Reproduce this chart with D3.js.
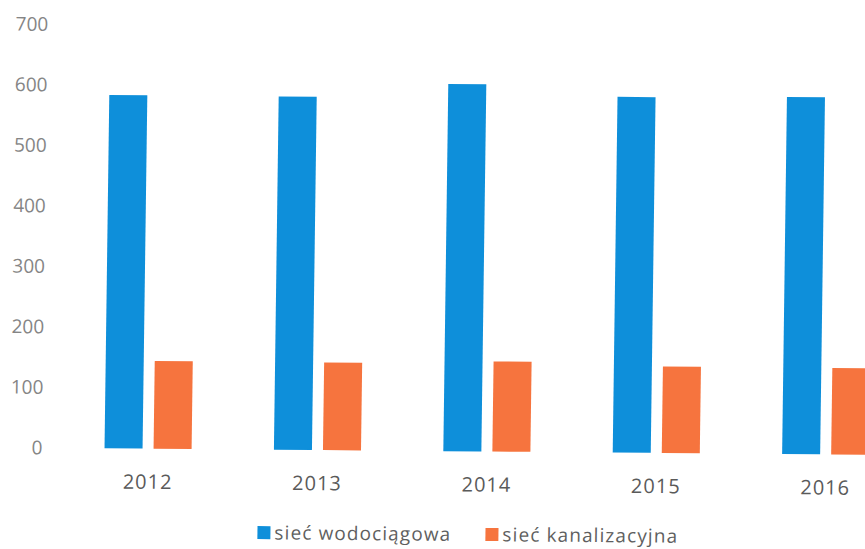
<!DOCTYPE html>
<html>
<head>
<meta charset="utf-8">
<script src="https://cdn.jsdelivr.net/npm/d3@7"></script>
<style>
  html, body { margin: 0; padding: 0; background: #ffffff; }
  svg { display: block; }
  text { font-family: "Open Sans", "DejaVu Sans", sans-serif; }
</style>
</head>
<body>
<script>
// Długość sieci (km) w kolejnych latach
const years = ["2012", "2013", "2014", "2015", "2016"];
const seriesNames = ["sieć wodociągowa", "sieć kanalizacyjna"];
const waterNetwork = [584, 584, 607, 588, 590];
const sewerNetwork = [145, 145, 149, 143, 143];
const yTicks = [0, 100, 200, 300, 400, 500, 600, 700];
const seriesColors = ["#0e8fda", "#f6743e"];

const W = 865, H = 549;

const rows = years.map((y, i) => ({
  year: y,
  values: [waterNetwork[i], sewerNetwork[i]]
}));

const svg = d3.select("body").append("svg")
  .attr("width", W)
  .attr("height", H);

// the whole page sits slightly askew, pivoting around the middle of the plot
const px = 430, py = 270, kx = -0.0135, ky = 0.0084;
const g = svg.append("g")
  .attr("transform", `matrix(1, ${ky}, ${kx}, 1, ${-kx * py}, ${-ky * px})`);

const y = d3.scaleLinear().domain([0, 700]).range([451, 27.5]);

const x0 = d3.scaleBand()
  .domain(years)
  .range([65.8, 912.8])
  .paddingInner(0.486)
  .paddingOuter(0.243);

const x1 = d3.scaleBand()
  .domain([0, 1])
  .range([0, x0.bandwidth()])
  .paddingInner(0.2245);

// Oś Y – same etykiety, bez linii
const yAxis = g.append("g")
  .attr("transform", "translate(45,0)")
  .call(d3.axisLeft(y).tickValues(yTicks).tickSize(0).tickPadding(0));
yAxis.select(".domain").remove();
yAxis.selectAll("text")
  .attr("fill", "#858585")
  .style("font-size", "19px")
  .style("font-family", "'Open Sans', sans-serif");

// Słupki
const groups = g.selectAll(".year")
  .data(rows)
  .join("g")
  .attr("class", "year")
  .attr("transform", d => `translate(${x0(d.year)},0)`);

groups.selectAll("rect")
  .data(d => d.values.map((v, k) => ({ k, v })))
  .join("rect")
  .attr("x", d => x1(d.k))
  .attr("width", x1.bandwidth())
  .attr("y", d => y(d.v))
  .attr("height", d => y(0) - y(d.v))
  .attr("fill", d => seriesColors[d.k]);

// Oś X – etykiety lat
const xAxis = g.append("g")
  .attr("transform", `translate(0,${y(0)})`)
  .call(d3.axisBottom(x0).tickSize(0).tickPadding(26));
xAxis.select(".domain").remove();
xAxis.selectAll("text")
  .attr("fill", "#5a5a5a")
  .style("font-size", "20px")
  .style("letter-spacing", "1px")
  .style("font-family", "'Open Sans', sans-serif");

// Legenda
const legendX = [261, 489];
const legend = g.selectAll(".legend")
  .data(seriesNames)
  .join("g")
  .attr("class", "legend")
  .attr("transform", (d, i) => `translate(${legendX[i]},${534})`);

legend.append("rect")
  .attr("x", 0)
  .attr("y", -6.5)
  .attr("width", 13)
  .attr("height", 13)
  .attr("fill", (d, i) => seriesColors[i]);

legend.append("text")
  .attr("x", 17)
  .attr("y", 0)
  .attr("dy", "0.35em")
  .attr("fill", "#5f5f5f")
  .style("font-size", "19px")
  .style("letter-spacing", "1.1px")
  .text(d => d);
</script>
</body>
</html>
